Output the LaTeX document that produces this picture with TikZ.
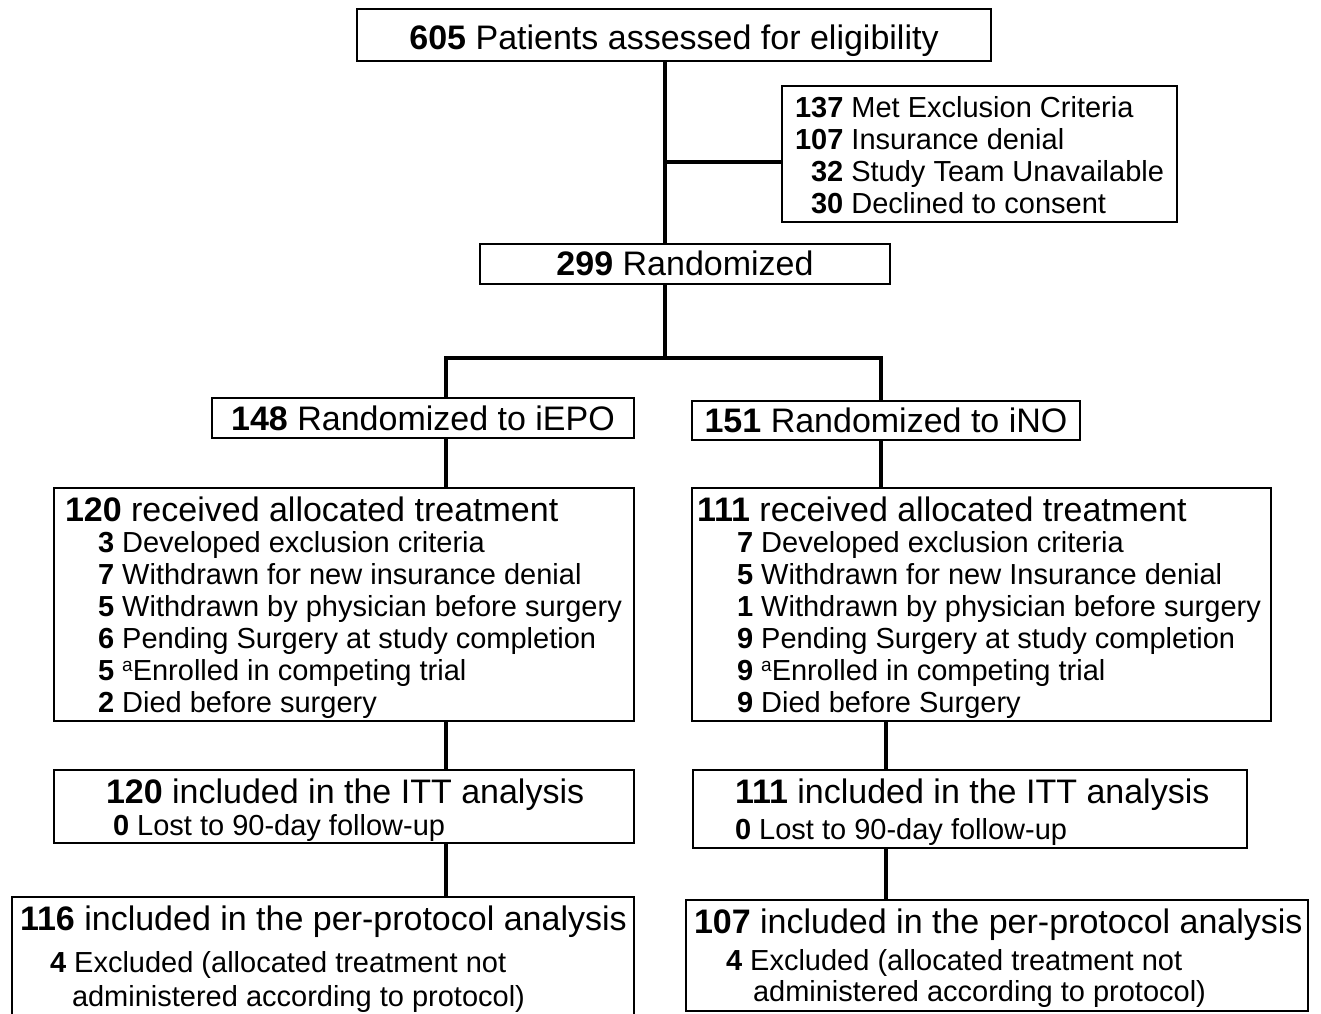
\documentclass[tikz,border=0pt]{standalone}
\usepackage{fontspec}
\setmainfont{Liberation Sans}
\newcommand\bigf{\fontsize{34}{36}\selectfont}
\newcommand\smf{\fontsize{29}{32}\selectfont}
\newcommand\supa{\raisebox{0.3em}{\fontsize{19}{19}\selectfont a}}
\begin{document}
\begin{tikzpicture}[x=1pt,y=-1pt,
  box/.style={draw,line width=2pt,inner sep=0pt,outer sep=0pt,anchor=north west},
  conn/.style={line width=4pt},
  tl/.style={inner sep=0pt,outer sep=0pt,anchor=base west},
  tc/.style={inner sep=0pt,outer sep=0pt,anchor=base}]
\useasboundingbox[fill=white] (0,0) rectangle (1321,1013);
\begin{scope}
\clip (0,0) rectangle (1321,1013);
% boxes
\node[box,minimum width=634pt,minimum height=52pt] (top) at (357,9) {};
\node[box,minimum width=395pt,minimum height=136pt] (excl) at (782,86) {};
\node[box,minimum width=410pt,minimum height=40pt] (rand) at (480,244) {};
\node[box,minimum width=422pt,minimum height=40pt] (iepo) at (212,398) {};
\node[box,minimum width=388pt,minimum height=39pt] (ino) at (692,401) {};
\node[box,minimum width=580pt,minimum height=233pt] (trL) at (54,488) {};
\node[box,minimum width=579pt,minimum height=233pt] (trR) at (692,488) {};
\node[box,minimum width=580pt,minimum height=73pt] (ittL) at (54,770) {};
\node[box,minimum width=554pt,minimum height=78pt] (ittR) at (693,770) {};
\node[box,minimum width=622pt,minimum height=125pt] (ppL) at (12,897) {};
\node[box,minimum width=622pt,minimum height=111pt] (ppR) at (686,900) {};
% connector coordinates
\coordinate (sp) at (665,162);
\coordinate (hj) at (665,358);
\coordinate (cL) at (446,358);
\coordinate (cR) at (881,358);
\coordinate (cR2) at (886,740);
% connectors
\draw[conn] (top.south -| sp) -- (rand.north -| sp);
\draw[conn] (sp) -- (sp -| excl.west);
\draw[conn] (rand.south -| hj) -- (hj);
\draw[conn,line join=miter] (iepo.north -| cL) -- (cL) -- (cR) -- (ino.north -| cR);
\draw[conn] (iepo.south -| cL) -- (trL.north -| cL);
\draw[conn] (trL.south -| cL) -- (ittL.north -| cL);
\draw[conn] (ittL.south -| cL) -- (ppL.north -| cL);
\draw[conn] (ino.south -| cR) -- (trR.north -| cR);
\draw[conn] (trR.south -| cR2) -- (ittR.north -| cR2);
\draw[conn] (ittR.south -| cR2) -- (ppR.north -| cR2);
% texts
\node[tc] (t0) at (674,49) {\bigf\textbf{605} Patients assessed for eligibility};
\node[tl] (e1) at (795,117) {\smf\textbf{137} Met Exclusion Criteria};
\node[tl] (e2) at (795,149) {\smf\textbf{107} Insurance denial};
\node[tl] (e3) at (811,181) {\smf\textbf{32} Study Team Unavailable};
\node[tl] (e4) at (811,213) {\smf\textbf{30} Declined to consent};
\node[tc] (r0) at (685,275) {\bigf\textbf{299} Randomized};
\node[tc] (a0) at (423,430) {\bigf\textbf{148} Randomized to iEPO};
\node[tc] (b0) at (886,432) {\bigf\textbf{151} Randomized to iNO};
% left treatment
\node[tl] (l0) at (65,521) {\bigf\textbf{120} received allocated treatment};
\node[tl] (l1) at (98,552) {\smf\textbf{3} Developed exclusion criteria};
\node[tl] (l2) at (98,584) {\smf\textbf{7} Withdrawn for new insurance denial};
\node[tl] (l3) at (98,616) {\smf\textbf{5} Withdrawn by physician before surgery};
\node[tl] (l4) at (98,648) {\smf\textbf{6} Pending Surgery at study completion};
\node[tl] (l5) at (98,680) {\smf\textbf{5} \supa Enrolled in competing trial};
\node[tl] (l6) at (98,712) {\smf\textbf{2} Died before surgery};
% right treatment
\node[tl] (m0) at (697,521) {\bigf\textbf{111} received allocated treatment};
\node[tl] (m1) at (737,552) {\smf\textbf{7} Developed exclusion criteria};
\node[tl] (m2) at (737,584) {\smf\textbf{5} Withdrawn for new Insurance denial};
\node[tl] (m3) at (737,616) {\smf\textbf{1} Withdrawn by physician before surgery};
\node[tl] (m4) at (737,648) {\smf\textbf{9} Pending Surgery at study completion};
\node[tl] (m5) at (737,680) {\smf\textbf{9} \supa Enrolled in competing trial};
\node[tl] (m6) at (737,712) {\smf\textbf{9} Died before Surgery};
% ITT
\node[tl] (i0) at (106,803) {\bigf\textbf{120} included in the ITT analysis};
\node[tl] (i1) at (113,835) {\smf\textbf{0} Lost to 90-day follow-up};
\node[tl] (j0) at (735,803) {\bigf\textbf{111} included in the ITT analysis};
\node[tl] (j1) at (735,839) {\smf\textbf{0} Lost to 90-day follow-up};
% PP
\node[tl] (p0) at (20,930) {\bigf\textbf{116} included in the per-protocol analysis};
\node[tl] (p1) at (50,972) {\smf\textbf{4} Excluded (allocated treatment not};
\node[tl] (p2) at (72,1006) {\smf administered according to protocol)};
\node[tl] (q0) at (694,933) {\bigf\textbf{107} included in the per-protocol analysis};
\node[tl] (q1) at (726,970) {\smf\textbf{4} Excluded (allocated treatment not};
\node[tl] (q2) at (753,1001) {\smf administered according to protocol)};
\end{scope}
\end{tikzpicture}
\end{document}
